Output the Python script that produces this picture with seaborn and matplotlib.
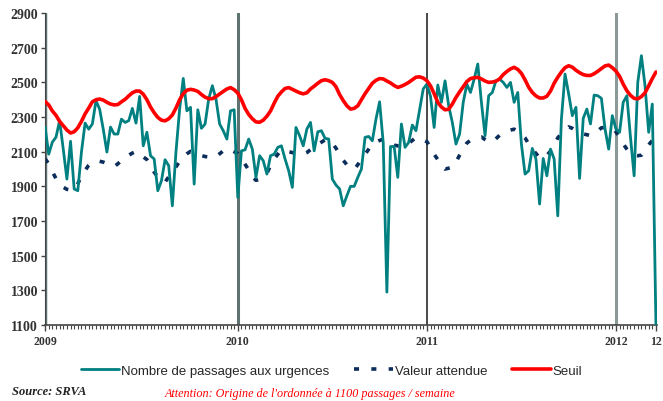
import matplotlib
matplotlib.use('Agg')
import matplotlib.pyplot as plt
from matplotlib.ticker import MultipleLocator, FixedLocator
import seaborn as sns
import numpy as np

# semaines depuis la semaine 1 de 2009
passages = [2242, 2086, 2155, 2184, 2279, 2115, 1942, 2160, 1885, 1875,
            2098, 2265, 2230, 2260, 2394, 2346, 2230, 2098, 2242, 2202,
            2202, 2288, 2269, 2279, 2350, 2265, 2419, 2134, 2212, 2077,
            2058, 1875, 1932, 2054, 2019, 1788, 2100, 2346, 2523, 2336,
            2356, 1913, 2342, 2235, 2260, 2404, 2481, 2404, 2260, 2221,
            2173, 2336, 2342,
            1836, 2105, 2111, 2173, 2115, 1952, 2077, 2048, 1971, 2077,
            2086, 2125, 2134, 2058, 1990, 1894, 2240, 2192, 2134,
            2231, 2269, 2105, 2215, 2221, 2177, 2173, 1942, 1908, 1885,
            1788, 1846, 1900, 1900, 1952, 2000, 2183, 2188, 2163, 2288,
            2388, 2150, 1290, 2130, 2130, 1952, 2260, 2125, 2154, 2254,
            2221, 2340, 2462,
            2490, 2420, 2240, 2485, 2385, 2509, 2365, 2269, 2144, 2202,
            2385, 2490, 2442, 2519, 2606,
            2385, 2192, 2423, 2442, 2509, 2519, 2500, 2471, 2500, 2385,
            2442, 2144, 1971, 1990, 2119, 2058, 1798, 2061, 1961, 2115,
            2058, 1730, 2288, 2548, 2433, 2308, 2356, 1946, 2292, 2346,
            2260, 2427, 2423, 2408, 2231, 2115, 2308, 2231, 2212, 2385,
            2423, 2183, 1961, 2500, 2654, 2481, 2212, 2375, 1100]

attendue = [2060, 2030, 1985, 1945, 1918, 1895, 1883, 1878, 1880, 1915,
            1960, 1992, 2022, 2042, 2045, 2045, 2040, 2032, 2022, 2015,
            2030, 2050, 2067, 2080, 2092, 2102, 2090, 2070, 2055, 2020,
            1982, 1955, 1930, 1925, 1955, 1980, 2012, 2045, 2070, 2088,
            2102, 2098, 2088, 2078, 2072, 2070, 2068, 2070, 2088, 2105,
            2118, 2110, 2100, 2090, 2060, 2028, 1995, 1955, 1935, 1940,
            1955, 1975, 2020, 2058, 2085, 2110, 2108, 2100, 2095, 2090,
            2088, 2086, 2095, 2112, 2128, 2142, 2155, 2168, 2168, 2150,
            2120, 2088, 2050, 2025, 2008, 1998, 2025, 2058, 2085, 2115,
            2144, 2155, 2165, 2172, 2163, 2150, 2138, 2134, 2135, 2137,
            2148, 2165, 2182, 2176, 2168, 2158, 2125, 2085, 2055, 2020,
            2000, 2005, 2010, 2040, 2080, 2115, 2150, 2166, 2175, 2182,
            2185, 2170, 2157, 2155, 2175, 2195, 2205, 2215, 2225, 2230,
            2215, 2200, 2180, 2145, 2115, 2090, 2065, 2062, 2080, 2103,
            2140, 2180, 2205, 2225, 2243, 2235, 2222, 2210, 2203, 2198,
            2193, 2205, 2220, 2238, 2240, 2238, 2236, 2215, 2180, 2145,
            2115, 2088, 2080, 2077, 2080, 2105, 2140, 2165, 2185]

seuil = [2390, 2370, 2335, 2310, 2275, 2250, 2225, 2208, 2215, 2238,
         2275, 2318, 2352, 2388, 2400, 2404, 2398, 2385, 2375, 2370,
         2372, 2388, 2402, 2422, 2440, 2450, 2450, 2432, 2400, 2358,
         2325, 2298, 2282, 2278, 2290, 2312, 2352, 2400, 2435, 2455,
         2460, 2456, 2448, 2430, 2415, 2406, 2406, 2418, 2433, 2448,
         2462, 2470, 2458, 2438, 2400, 2350, 2315, 2290, 2272, 2270,
         2282, 2305, 2335, 2380, 2420, 2445, 2465, 2470, 2460, 2450,
         2440, 2434, 2440, 2462, 2478, 2495, 2510, 2515, 2510, 2500,
         2475, 2430, 2395, 2365, 2346, 2350, 2365, 2400, 2435, 2465,
         2495, 2512, 2522, 2520, 2508, 2497, 2482, 2471, 2478, 2488,
         2500, 2515, 2530, 2532, 2525, 2510, 2480, 2435, 2385, 2358,
         2342, 2345, 2375, 2413, 2445, 2475, 2505, 2522, 2527, 2529,
         2520, 2508, 2500, 2502, 2507, 2520, 2545, 2563, 2578, 2587,
         2575, 2552, 2515, 2472, 2442, 2422, 2410, 2410, 2420, 2450,
         2495, 2530, 2560, 2585, 2596, 2588, 2570, 2556, 2545, 2540,
         2540, 2550, 2564, 2580, 2595, 2600, 2585, 2565, 2535, 2490,
         2452, 2425, 2408, 2405, 2418, 2440, 2480, 2522, 2560]

semaines = np.arange(len(passages))
annees_pos = [0, 53, 105, 157, 168]
annees_lab = ['2009', '2010', '2011', '2012', '12']

sns.set_style('white')
plt.rcParams['font.family'] = ['Liberation Sans', 'DejaVu Sans']

fig = plt.figure(figsize=(6.63, 4.02), dpi=100)
ax = fig.add_axes([0.068, 0.189, 0.923, 0.776])

# lignes verticales des années
ax.axvline(0, color='#5f7272', lw=2.5, zorder=1)
ax.axvline(53, color='#5f7272', lw=2.2, zorder=1)
ax.axvline(105, color='#3a3a3a', lw=1.3, zorder=1)
ax.axvline(157, color='#8c9999', lw=2.2, zorder=1)

sns.lineplot(x=semaines, y=passages, ax=ax, color='#008080', lw=2,
             label='Nombre de passages aux urgences', zorder=3)
sns.lineplot(x=semaines, y=attendue, ax=ax, color='#0b2d5b', lw=2.6,
             linestyle=(0, (1.4, 3.4)), label='Valeur attendue', zorder=2)
sns.lineplot(x=semaines, y=seuil, ax=ax, color='#ff0000', lw=2.6,
             label='Seuil', zorder=4)

ax.set_xlim(0, 168.3)
ax.set_ylim(1100, 2900)
ax.set_yticks(range(1100, 3000, 200))
ax.xaxis.set_major_locator(FixedLocator(annees_pos))
ax.set_xticklabels(annees_lab)
ax.xaxis.set_minor_locator(MultipleLocator(1))
ax.tick_params(axis='x', which='minor', direction='out', length=3, width=0.8,
               color='#444444', bottom=True)
ax.tick_params(axis='x', which='major', direction='out', length=4, width=1,
               color='#444444', bottom=True, pad=3)
ax.tick_params(axis='y', direction='out', length=3, width=1, color='#444444',
               left=True, pad=2)
for lab in ax.get_yticklabels():
    lab.set_fontfamily('Liberation Serif')
    lab.set_fontweight('bold')
    lab.set_fontsize(10)
    lab.set_color('#333333')
for lab in ax.get_xticklabels():
    lab.set_fontfamily('Liberation Serif')
    lab.set_fontweight('bold')
    lab.set_fontsize(8.5)
    lab.set_color('#333333')

sns.despine(ax=ax)
ax.spines['left'].set_color('#444444')
ax.spines['bottom'].set_color('#444444')
ax.spines['bottom'].set_linewidth(1.2)
ax.set_xlabel('')
ax.set_ylabel('')

ax.legend(loc='center', bbox_to_anchor=(0.5, 0.075),
          bbox_transform=fig.transFigure, ncol=3, frameon=False,
          fontsize=9.5, handlelength=2.9, handletextpad=0.15,
          columnspacing=1.9)

fig.text(0.018, 0.018, 'Source: SRVA', family='Liberation Serif',
         style='italic', weight='bold', fontsize=9, color='#222222')
fig.text(0.468, 0.012, "Attention: Origine de l'ordonnée à 1100 passages / semaine",
         family='Liberation Serif', style='italic', fontsize=8.7,
         color='#ff0000', ha='center')

fig.savefig('out.png', dpi=100)
